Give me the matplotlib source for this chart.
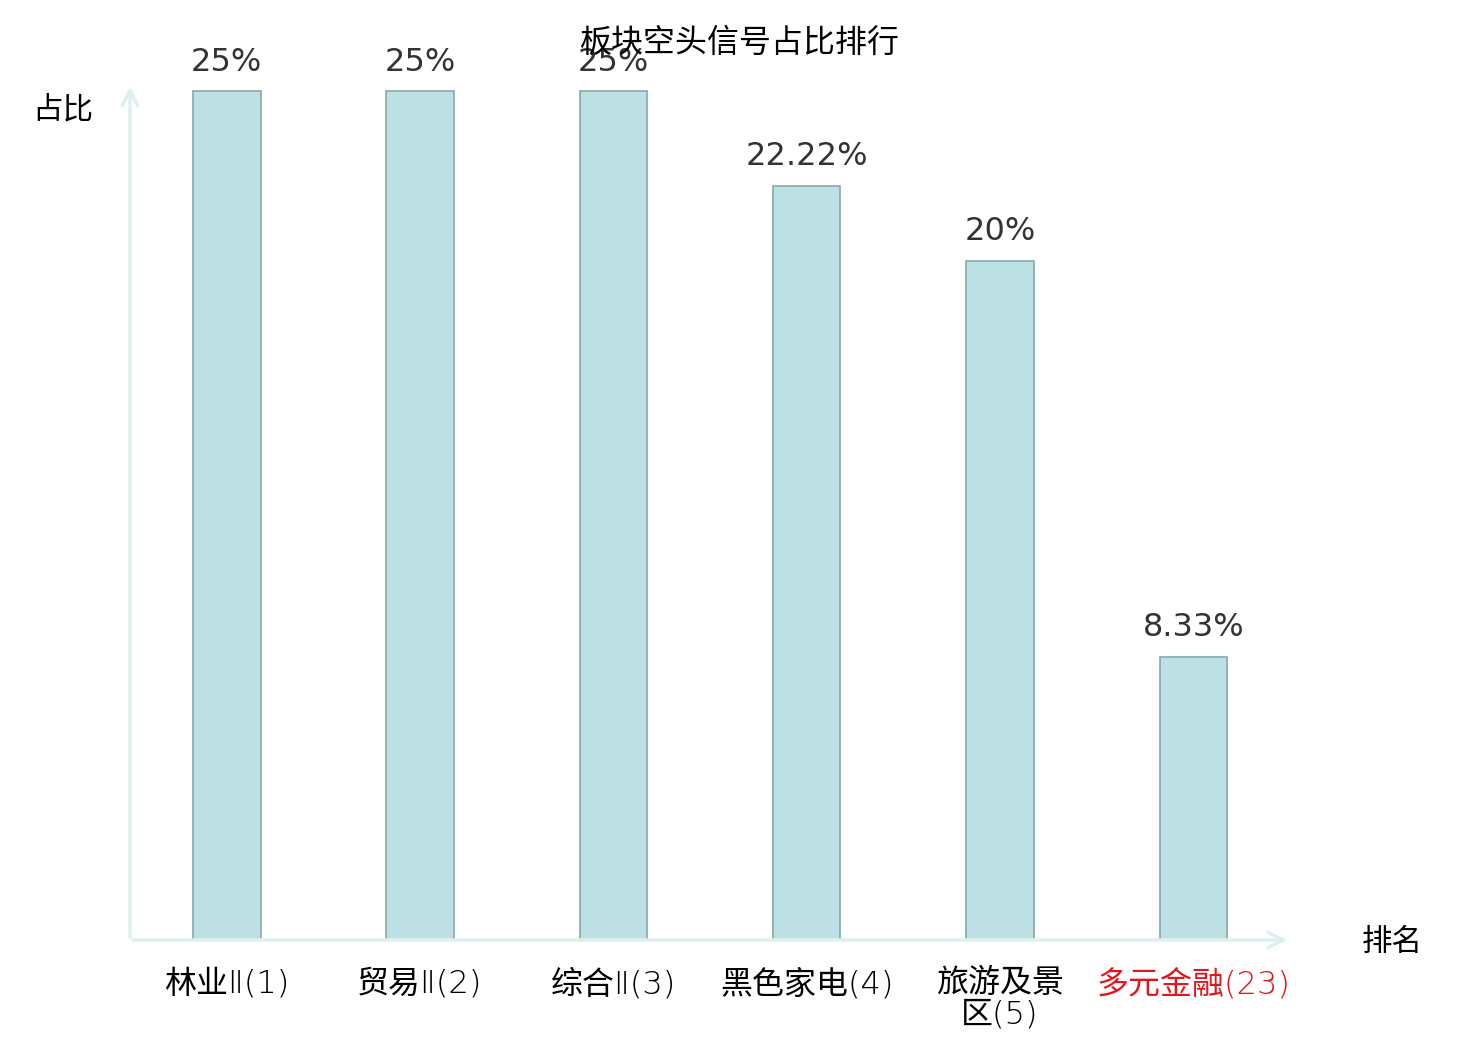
import matplotlib.pyplot as plt
import numpy as np

plt.rcParams['font.family'] = ['Noto Sans CJK SC', 'DejaVu Sans']

# data
categories = ['林业Ⅱ(1)', '贸易Ⅱ(2)', '综合Ⅱ(3)', '黑色家电(4)', '旅游及景\n区(5)', '多元金融(23)']
values = [25, 25, 25, 22.22, 20, 8.33]
value_labels = ['25%', '25%', '25%', '22.22%', '20%', '8.33%']
label_colors = ['black', 'black', 'black', 'black', 'black', '#e8141b']

fig = plt.figure(figsize=(14.8, 10.4), dpi=100)
ax = fig.add_axes([130 / 1480, 100 / 1040, 1160 / 1480, 852 / 1040])

x = np.arange(len(categories))
ax.bar(x, values, width=0.35, color='#bce0e3', edgecolor='#88a8a9', linewidth=1.2)

for xi, v, t in zip(x, values, value_labels):
    ax.annotate(t, (xi, v), xytext=(0, 10), textcoords='offset points',
                ha='center', va='bottom', fontsize=23, color='#333333',
                family='DejaVu Sans')

ax.set_xlim(-0.5, len(categories) - 0.5)
ax.set_ylim(0, 25.1)
for s in ax.spines.values():
    s.set_visible(False)
ax.set_yticks([])
ax.set_xticks(x)
ax.set_xticklabels(categories, fontsize=23, linespacing=1.05,
                   family=['DejaVu Sans', 'Noto Sans CJK SC'], weight='light')
for lbl, c in zip(ax.get_xticklabels(), label_colors):
    lbl.set_color(c)
ax.tick_params(axis='x', length=0, pad=20)

# axis arrows
arrow = dict(arrowstyle='->', color='#dcf1ef', lw=2.5, mutation_scale=28)
ax.annotate('', xy=(1, 0), xytext=(0, 0), xycoords='axes fraction', arrowprops=arrow)
ax.annotate('', xy=(0, 1.005), xytext=(0, 0), xycoords='axes fraction', arrowprops=arrow)

fig.text(63 / 1480, 1 - 110 / 1040, '占比', ha='center', va='center', fontsize=22)
fig.text(1392 / 1480, 1 - 942 / 1040, '排名', ha='center', va='center', fontsize=22)
fig.text(740 / 1480, 1 - 43 / 1040, '板块空头信号占比排行', ha='center', va='center', fontsize=23)

fig.savefig('out.png', dpi=100)
